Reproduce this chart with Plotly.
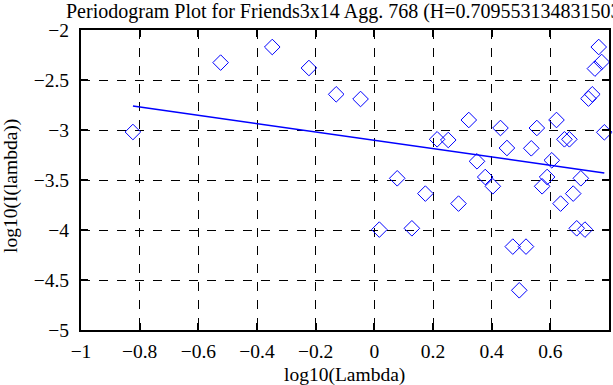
import plotly.graph_objects as go

title_text = "Periodogram Plot for Friends3x14 Agg. 768 (H=0.709553134831503)"
x_title = "log10(Lambda)"
y_title = "log10(I(lambda))"

log_lambda = [-0.823, -0.524, -0.348, -0.223, -0.130, -0.047, 0.017, 0.078, 0.128, 0.174,
              0.214, 0.252, 0.287, 0.322, 0.350, 0.378, 0.404, 0.430, 0.452, 0.472,
              0.494, 0.517, 0.535, 0.554, 0.572, 0.589, 0.605, 0.621, 0.635, 0.648,
              0.665, 0.678, 0.690, 0.704, 0.718, 0.730, 0.743, 0.752, 0.765, 0.775, 0.784]
log_I = [-3.02, -2.326, -2.17, -2.38, -2.643, -2.69, -3.996, -3.483, -3.983, -3.636,
         -3.093, -3.10, -3.736, -2.90, -3.313, -3.47, -3.563, -2.98, -3.18, -4.166,
         -4.603, -4.166, -3.183, -2.98, -3.563, -3.47, -3.303, -2.90, -3.736, -3.093,
         -3.093, -3.636, -3.983, -3.483, -3.996, -2.686, -2.643, -2.386, -2.17, -2.32, -3.023]

fit_x = [-0.823, 0.784]
fit_y = [-2.76, -3.43]

x_ticks = [-1, -0.8, -0.6, -0.4, -0.2, 0, 0.2, 0.4, 0.6, 0.8]
y_ticks = [-5, -4.5, -4, -3.5, -3, -2.5, -2]

FF = "Liberation Serif, Times New Roman, serif"
FS = 19.5

fig = go.Figure()
fig.add_trace(go.Scatter(
    x=log_lambda, y=log_I, mode="markers",
    marker=dict(symbol="diamond-open", size=12, color="#0000ff", line=dict(width=1)),
    showlegend=False, cliponaxis=False))
fig.add_trace(go.Scatter(
    x=fit_x, y=fit_y, mode="lines",
    line=dict(color="#0000ff", width=1.5), showlegend=False))

axis_common = dict(
    showline=True, linecolor="black", linewidth=2, mirror="ticks",
    ticks="inside", ticklen=7, tickcolor="black", tickwidth=1.5,
    showgrid=True, gridcolor="black", griddash="dash", gridwidth=1,
    zeroline=False, automargin=False,
    tickfont=dict(family=FF, size=FS, color="black"),
)

fig.update_xaxes(range=[-1, 0.8], tickvals=x_ticks, ticklabelstandoff=3, **axis_common)
fig.update_yaxes(range=[-5, -2], tickvals=y_ticks, ticklabelstandoff=6, **axis_common)

W, H = 613, 385
L, R, T, B = 81, 4, 30, 55
pw, ph = W - L - R, H - T - B

def px_to_paper_x(px):
    return (px - L) / pw

def px_to_paper_y(py):
    return (H - B - py) / ph

fig.update_layout(
    width=W, height=H,
    margin=dict(l=L, r=R, t=T, b=B, autoexpand=False),
    plot_bgcolor="white", paper_bgcolor="white",
    font=dict(family=FF, size=FS, color="black"),
    annotations=[
        dict(text=title_text, xref="paper", yref="paper",
             x=px_to_paper_x(64), y=px_to_paper_y(11), xanchor="left", yanchor="middle",
             showarrow=False, font=dict(family=FF, size=20, color="black")),
        dict(text=x_title, xref="paper", yref="paper",
             x=px_to_paper_x(344), y=px_to_paper_y(375), xanchor="center", yanchor="middle",
             showarrow=False, font=dict(family=FF, size=FS, color="black")),
        dict(text=y_title, xref="paper", yref="paper", textangle=-90,
             x=px_to_paper_x(11), y=px_to_paper_y(186), xanchor="center", yanchor="middle",
             showarrow=False, font=dict(family=FF, size=FS, color="black")),
    ],
)

fig.write_html("out.html", config={"displayModeBar": False},
               post_script="document.body.style.margin='0';document.body.style.overflow='hidden';")
